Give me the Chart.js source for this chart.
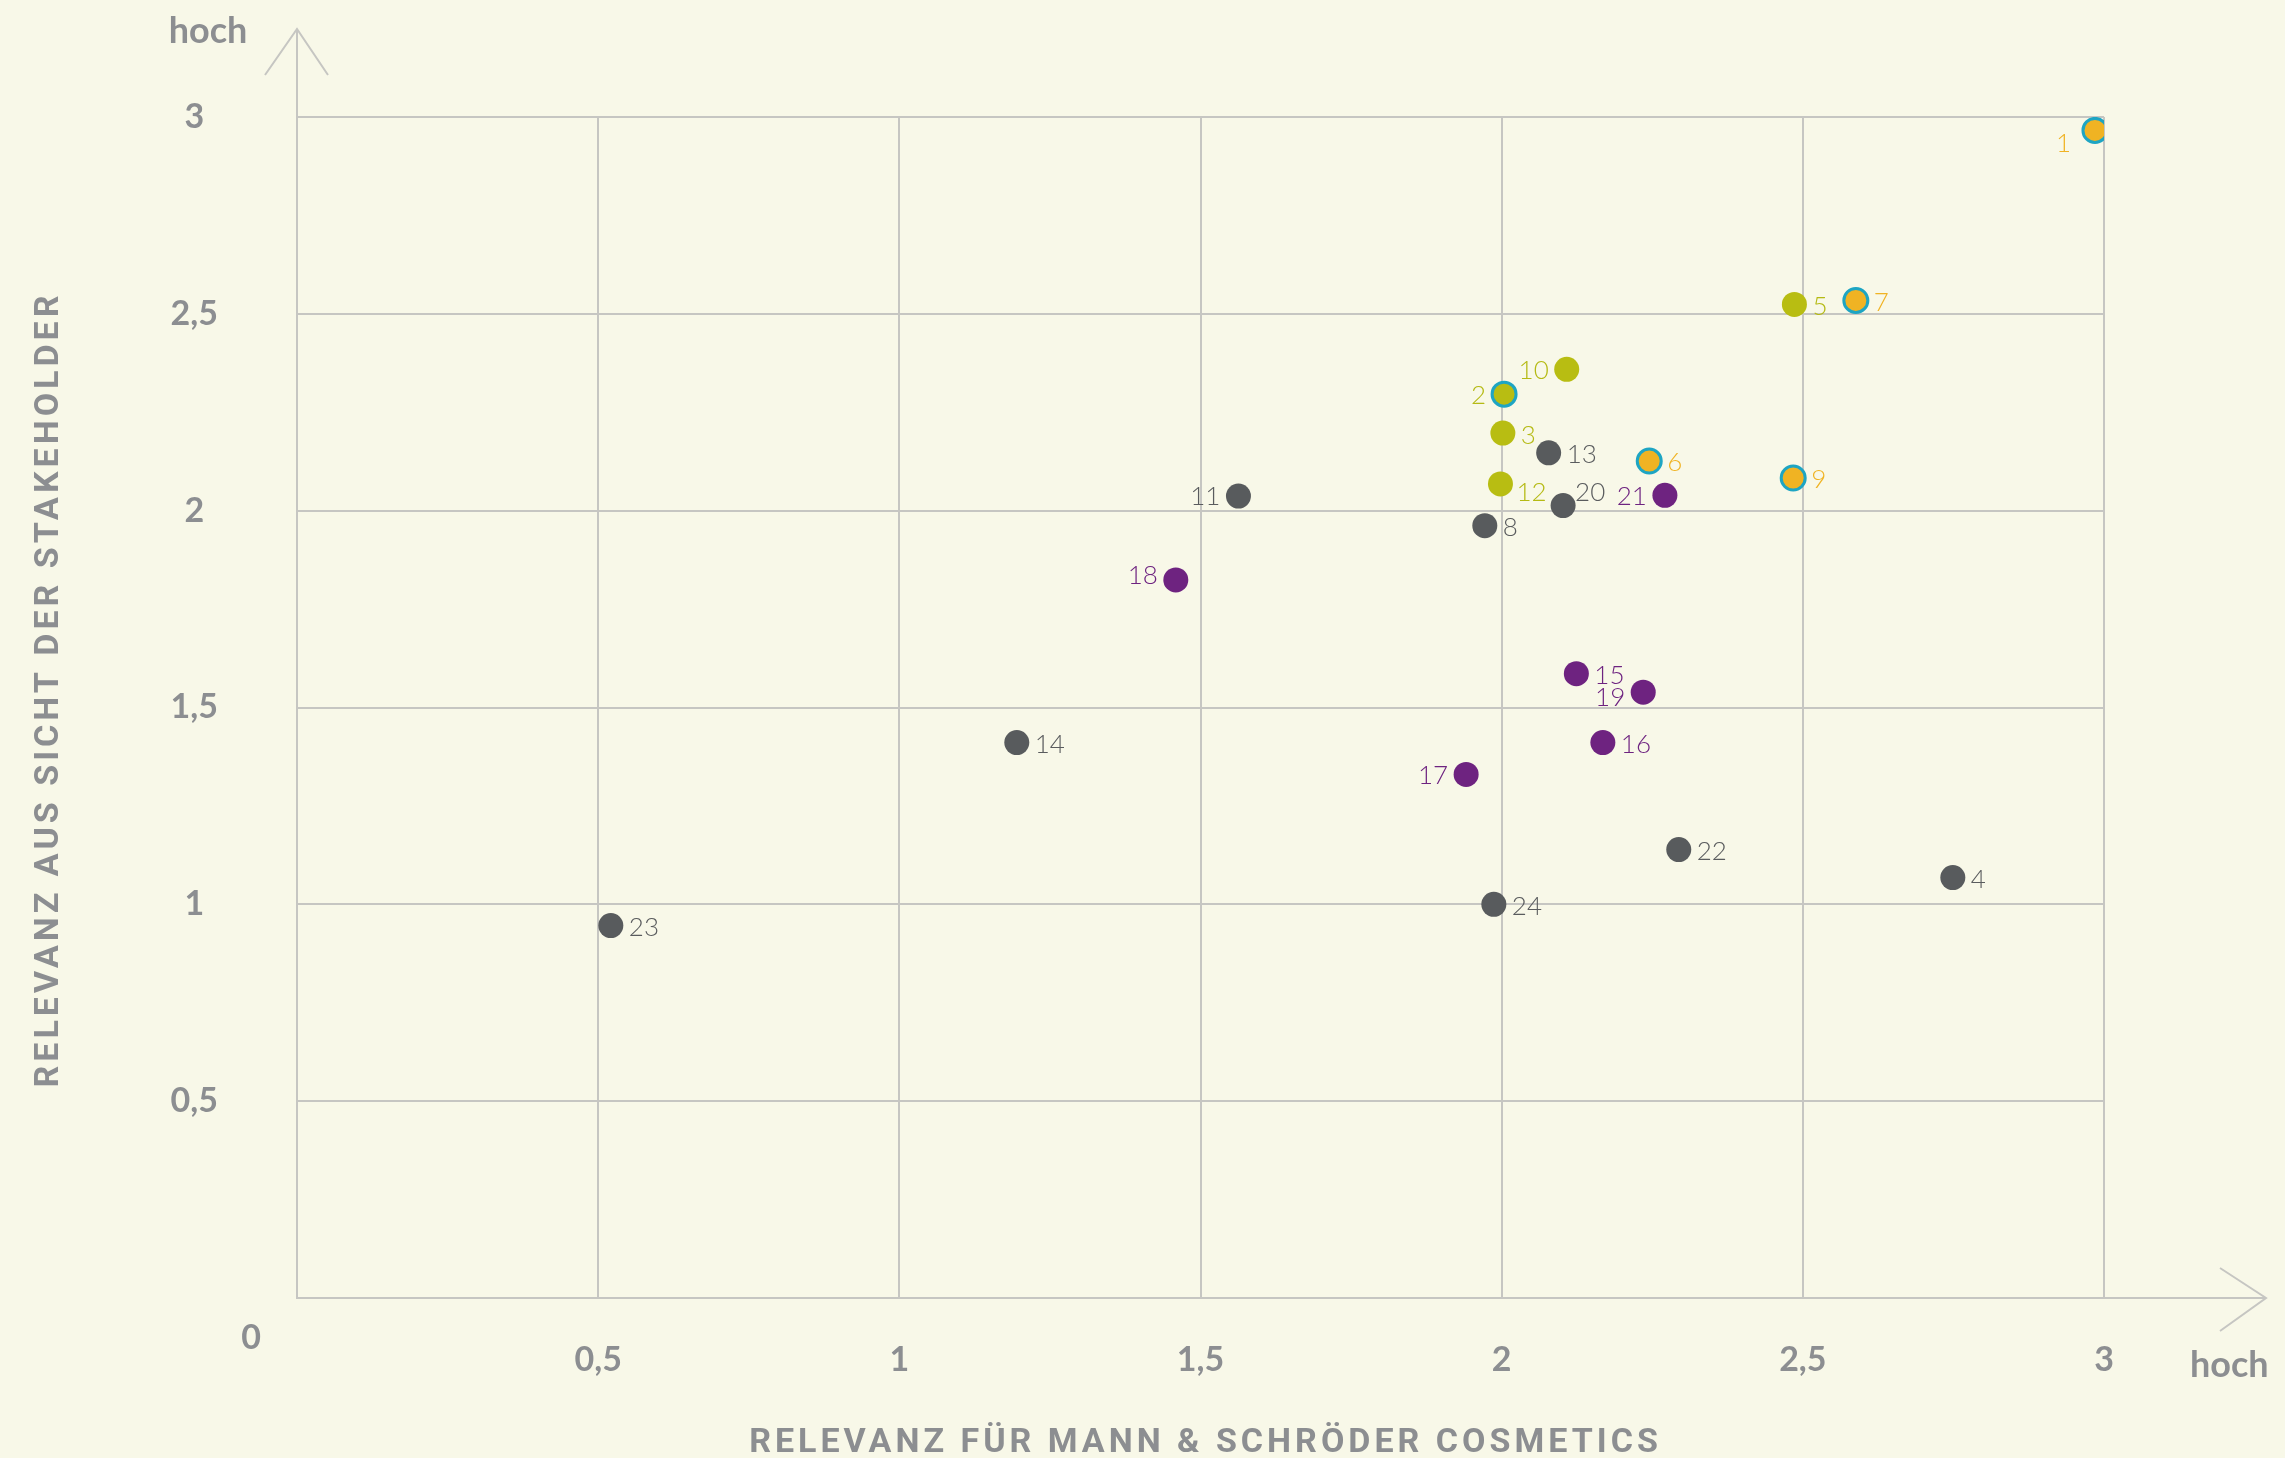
<!DOCTYPE html>
<html lang="de">
<head>
<meta charset="utf-8">
<title>Wesentlichkeitsmatrix</title>
<script src="https://cdn.jsdelivr.net/npm/chart.js@4.4.1/dist/chart.umd.min.js"></script>
<style>
  html, body { margin: 0; padding: 0; background: #f8f8e8; }
  #wrap { width: 2285px; height: 1458px; }
</style>
</head>
<body>
<div id="wrap"><canvas id="matrix"></canvas></div>
<script>
// Themen 1-24 der Wesentlichkeitsanalyse
const themen = [1, 2, 3, 4, 5, 6, 7, 8, 9, 10, 11, 12, 13, 14, 15, 16, 17, 18, 19, 20, 21, 22, 23, 24];
const relevanzUnternehmen = [2.985, 2.004, 2.002, 2.749, 2.486, 2.245, 2.588, 1.972, 2.484, 2.108, 1.563, 1.998,
                             2.078, 1.195, 2.124, 2.168, 1.941, 1.459, 2.235, 2.102, 2.271, 2.294, 0.521, 1.987];
const relevanzStakeholder = [2.966, 2.296, 2.197, 1.068, 2.524, 2.126, 2.534, 1.962, 2.083, 2.359, 2.037, 2.068,
                             2.147, 1.411, 1.586, 1.411, 1.330, 1.824, 1.539, 2.013, 2.039, 1.139, 0.946, 1.000];
const gruppe = ['orange', 'olive', 'olive', 'grau', 'olive', 'orange', 'orange', 'grau', 'orange', 'olive', 'grau', 'olive',
                'grau', 'grau', 'lila', 'lila', 'lila', 'lila', 'lila', 'grau', 'lila', 'grau', 'grau', 'grau'];
const markiert = [1, 2, 6, 7, 9];
const tickBeschriftung = ['', '0,5', '1', '1,5', '2', '2,5', '3'];

const farben = { orange: '#f0b323', olive: '#b8bd12', grau: '#585b5d', lila: '#6e2380' };
const textFarben = { orange: '#f0b323', olive: '#b5ba14', grau: '#5a5c5e', lila: '#6e2380' };
const ringFarbe = '#1ea5c3';
const linienFarbe = '#c6c6c2';
const schriftGrau = '#8c8e91';

// Seite der Nummer neben dem Punkt (Standard: rechts)
const labelLage = { 1: 'lu', 2: 'l', 10: 'l', 11: 'l', 17: 'l', 18: 'lo', 19: 'lt', 21: 'l', 20: 'ro', 12: 'ru' };
const versatz = {
  r: [18, 2, 'left'], l: [-18, 1, 'right'], lu: [-24, 13, 'right'], lo: [-18, -4, 'right'],
  lt: [-18, 5, 'right'], ro: [12, -13, 'left'], ru: [16, 9, 'left']
};

const datasets = ['orange', 'olive', 'grau', 'lila'].map(g => {
  const idx = themen.map((t, i) => i).filter(i => gruppe[i] === g);
  return {
    label: g,
    data: idx.map(i => ({ x: relevanzUnternehmen[i], y: relevanzStakeholder[i], nr: themen[i] })),
    backgroundColor: farben[g],
    pointBackgroundColor: farben[g],
    pointBorderColor: idx.map(i => markiert.includes(themen[i]) ? ringFarbe : farben[g]),
    pointBorderWidth: idx.map(i => markiert.includes(themen[i]) ? 3 : 0),
    pointRadius: idx.map(i => markiert.includes(themen[i]) ? 12 : 12.5),
    pointHoverRadius: 12.5
  };
});

const deko = {
  id: 'deko',
  beforeDraw(chart) {
    const ctx = chart.ctx;
    ctx.save();
    ctx.fillStyle = '#f8f8e8';
    ctx.fillRect(0, 0, chart.width, chart.height);
    ctx.restore();
  },
  afterDraw(chart) {
    const { ctx, chartArea: a, scales: { x, y } } = chart;
    const x0 = x.getPixelForValue(0), y0 = y.getPixelForValue(0);
    ctx.save();
    ctx.strokeStyle = linienFarbe;
    ctx.lineWidth = 2;
    ctx.beginPath();
    ctx.moveTo(x0, a.top); ctx.lineTo(x0, a.top - 88);
    ctx.moveTo(x0 - 32, a.top - 42); ctx.lineTo(x0, a.top - 88); ctx.lineTo(x0 + 31, a.top - 42);
    ctx.moveTo(a.right, y0); ctx.lineTo(a.right + 162, y0);
    ctx.moveTo(a.right + 116, y0 - 30); ctx.lineTo(a.right + 162, y0); ctx.lineTo(a.right + 116, y0 + 33);
    ctx.stroke();

    ctx.fillStyle = schriftGrau;
    ctx.font = 'bold 36px Lato';
    ctx.textBaseline = 'alphabetic';
    ctx.textAlign = 'center';
    ctx.fillText('hoch', x0 - 89, a.top - 74);
    ctx.textAlign = 'left';
    ctx.fillText('hoch', a.right + 86, y0 + 79);
    ctx.font = 'bold 34px Lato';
    ctx.textAlign = 'center';
    ctx.fillText('0', x0 - 46, y0 + 51);

    ctx.font = '700 34px Roboto';
    ctx.letterSpacing = '4px';
    ctx.fillText('RELEVANZ FÜR MANN & SCHRÖDER COSMETICS', (a.left + a.right) / 2 + 5, y0 + 154);
    ctx.translate(58, (a.top + a.bottom) / 2 - 18);
    ctx.rotate(-Math.PI / 2);
    ctx.fillText('RELEVANZ AUS SICHT DER STAKEHOLDER', 0, 0);
    ctx.restore();
  },
  afterDatasetsDraw(chart) {
    const ctx = chart.ctx;
    ctx.save();
    ctx.font = '300 26px Lato';
    ctx.textBaseline = 'middle';
    chart.data.datasets.forEach((ds, di) => {
      chart.getDatasetMeta(di).data.forEach((pt, j) => {
        const nr = ds.data[j].nr;
        const [dx, dy, align] = versatz[labelLage[nr] || 'r'];
        ctx.fillStyle = textFarben[ds.label];
        ctx.textAlign = align;
        ctx.fillText(String(nr), pt.x + dx, pt.y + dy);
      });
    });
    ctx.restore();
  }
};

const achse = (breite, hoehe) => ({
  type: 'linear',
  min: 0,
  max: 3,
  ticks: {
    stepSize: 0.5,
    color: schriftGrau,
    font: { family: 'Lato', size: 34, weight: 'bold' },
    callback: (v, i) => tickBeschriftung[i]
  },
  grid: { color: linienFarbe, lineWidth: 2, drawTicks: false },
  border: { color: linienFarbe, width: 2 },
  afterFit: s => { if (breite) s.width = breite; if (hoehe) s.height = hoehe; }
});

const xAchse = achse(0, 160);
xAchse.ticks.padding = 42;
const yAchse = achse(297, 0);
yAchse.ticks.padding = 79;
yAchse.ticks.crossAlign = 'center';

new Chart(document.getElementById('matrix'), {
  type: 'scatter',
  data: { datasets },
  options: {
    responsive: true,
    maintainAspectRatio: false,
    animation: false,
    layout: { padding: { top: 117, right: 181, left: 0, bottom: 0 } },
    plugins: { legend: { display: false }, tooltip: { enabled: false } },
    scales: { x: xAchse, y: yAchse }
  },
  plugins: [deko]
});
</script>
</body>
</html>
